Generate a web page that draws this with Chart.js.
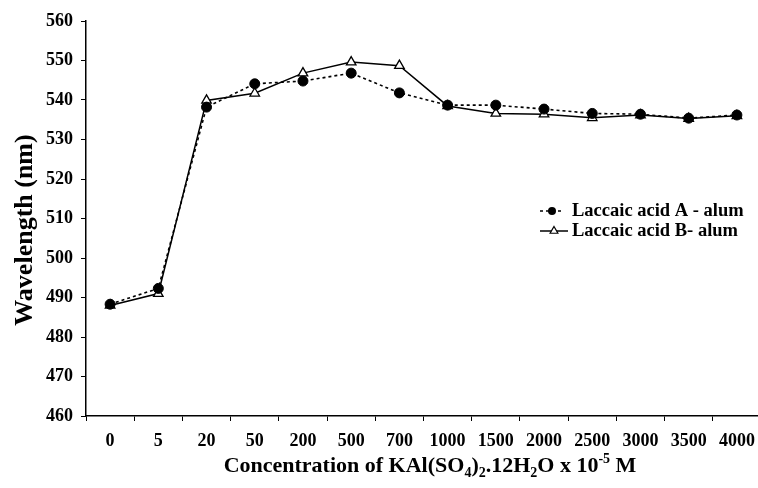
<!DOCTYPE html>
<html>
<head>
<meta charset="utf-8">
<script src="https://cdn.jsdelivr.net/npm/chart.js@4"></script>
<style>
  html, body { margin: 0; padding: 0; background: #fff; overflow: hidden; }
  #wrap { width: 758px; height: 488px; }
</style>
</head>
<body>
<div id="wrap"><canvas id="c" width="758" height="488"></canvas></div>
<script>
const categories = ['0', '5', '20', '50', '200', '500', '700', '1000', '1500', '2000', '2500', '3000', '3500', '4000'];
const acidA = [488.3, 492.3, 538.2, 544.1, 544.8, 546.8, 541.8, 538.7, 538.7, 537.7, 536.6, 536.4, 535.4, 536.2];
const acidB = [488.0, 491.0, 539.9, 541.7, 546.8, 549.6, 548.7, 538.5, 536.6, 536.4, 535.5, 536.2, 535.3, 536.0];
const seriesNames = ['Laccaic acid A - alum', 'Laccaic acid B- alum'];
const yMin = 460, yMax = 560, yStep = 10;
const yTitle = 'Wavelength (nm)';
// x title pieces: [text, kind] kind: n = normal, sub, sup
const xTitleParts = [['Concentration of KAl(SO', 'n'], ['4', 'sub'], [')', 'n'], ['2', 'sub'], ['.12H', 'n'], ['2', 'sub'], ['O x 10', 'n'], ['-5', 'sup'], [' M', 'n']];

const FONT = '"Liberation Serif", "Times New Roman", serif';

// The original plot area runs slightly past the right edge of the picture.
const stretchRight = {
  id: 'stretchRight',
  afterLayout(chart) {
    const xs = chart.scales.x;
    const target = 761;
    xs.right = target;
    xs.width = target - xs.left;
    chart.chartArea.right = target;
    chart.chartArea.width = target - chart.chartArea.left;
    xs.configure();
  }
};

const titlesAndLegend = {
  id: 'titlesAndLegend',
  afterDraw(chart) {
    const ctx = chart.ctx;
    ctx.save();
    ctx.fillStyle = '#000';
    // Y title
    ctx.save();
    ctx.font = 'bold 26px ' + FONT;
    ctx.translate(32, 230);
    ctx.rotate(-Math.PI / 2);
    ctx.textAlign = 'center';
    ctx.textBaseline = 'alphabetic';
    ctx.fillText(yTitle, 0, 0);
    ctx.restore();

    // X title with sub/superscripts
    const big = 'bold 22px ' + FONT, small = 'bold 14px ' + FONT;
    let total = 0;
    xTitleParts.forEach(([t, k]) => { ctx.font = k === 'n' ? big : small; total += ctx.measureText(t).width; });
    let x = 430 - total / 2;
    const base = 472;
    ctx.textAlign = 'left';
    ctx.textBaseline = 'alphabetic';
    xTitleParts.forEach(([t, k]) => {
      ctx.font = k === 'n' ? big : small;
      const dy = k === 'sub' ? 5 : (k === 'sup' ? -9 : 0);
      ctx.fillText(t, x, base + dy);
      x += ctx.measureText(t).width;
    });

    // Legend
    const lx = 540, ly = [211, 231];
    chart.data.datasets.forEach((ds, i) => {
      const y = ly[i];
      ctx.save();
      ctx.strokeStyle = '#000';
      ctx.lineWidth = ds.borderWidth;
      ctx.setLineDash(ds.borderDash || []);
      ctx.beginPath();
      ctx.moveTo(lx, y);
      ctx.lineTo(lx + (i === 0 ? 24 : 28), y);
      ctx.stroke();
      ctx.setLineDash([]);
      ctx.lineWidth = 1.2;
      ctx.fillStyle = ds.pointBackgroundColor;
      const cx = lx + (i === 0 ? 12 : 14);
      if (ds.pointStyle === 'triangle') {
        const r = 4.5;
        ctx.beginPath();
        ctx.moveTo(cx, y - r);
        ctx.lineTo(cx + r * 0.866, y + r * 0.5);
        ctx.lineTo(cx - r * 0.866, y + r * 0.5);
        ctx.closePath();
        ctx.fill();
        ctx.stroke();
      } else {
        ctx.beginPath();
        ctx.arc(cx, y, 4, 0, Math.PI * 2);
        ctx.fill();
      }
      ctx.restore();
      ctx.font = 'bold 18.5px ' + FONT;
      ctx.fillStyle = '#000';
      ctx.textBaseline = 'middle';
      ctx.fillText(ds.label, 572, y);
    });
    ctx.restore();
  }
};

new Chart(document.getElementById('c'), {
  type: 'line',
  data: {
    labels: categories,
    datasets: [
      {
        label: seriesNames[0],
        data: acidA,
        borderColor: '#000',
        borderWidth: 1.6,
        borderDash: [3, 3],
        pointStyle: 'circle',
        pointRadius: 5,
        pointBackgroundColor: '#000',
        pointBorderColor: '#000',
        pointBorderWidth: 1,
        tension: 0,
        fill: false
      },
      {
        label: seriesNames[1],
        data: acidB,
        borderColor: '#000',
        borderWidth: 1.5,
        pointStyle: 'triangle',
        pointRadius: 5.5,
        pointBackgroundColor: '#fff',
        pointBorderColor: '#000',
        pointBorderWidth: 1.3,
        tension: 0,
        fill: false
      }
    ]
  },
  plugins: [stretchRight, titlesAndLegend],
  options: {
    responsive: false,
    animation: false,
    devicePixelRatio: 1,
    layout: { padding: { top: 21, right: 0, left: 0, bottom: 0 } },
    plugins: {
      legend: { display: false },
      tooltip: { enabled: false },
      title: { display: false }
    },
    scales: {
      x: {
        type: 'category',
        offset: true,
        grid: {
          display: true,
          offset: true,
          drawOnChartArea: false,
          drawTicks: true,
          tickLength: 5,
          color: '#000',
          lineWidth: 1
        },
        border: { display: true, color: '#000', width: 1.5 },
        ticks: {
          color: '#000',
          font: { family: FONT, size: 18, weight: 'bold' },
          padding: 10,
          maxRotation: 0,
          autoSkip: false
        },
        afterFit(s) { s.height = 72; }
      },
      y: {
        min: yMin,
        max: yMax,
        grid: {
          display: true,
          drawOnChartArea: false,
          drawTicks: true,
          tickLength: 5,
          color: '#000',
          lineWidth: 1
        },
        border: { display: true, color: '#000', width: 1.5 },
        ticks: {
          stepSize: yStep,
          color: '#000',
          font: { family: FONT, size: 18, weight: 'bold' },
          padding: 8
        },
        afterFit(s) { s.width = 86; }
      }
    }
  }
});
</script>
</body>
</html>
